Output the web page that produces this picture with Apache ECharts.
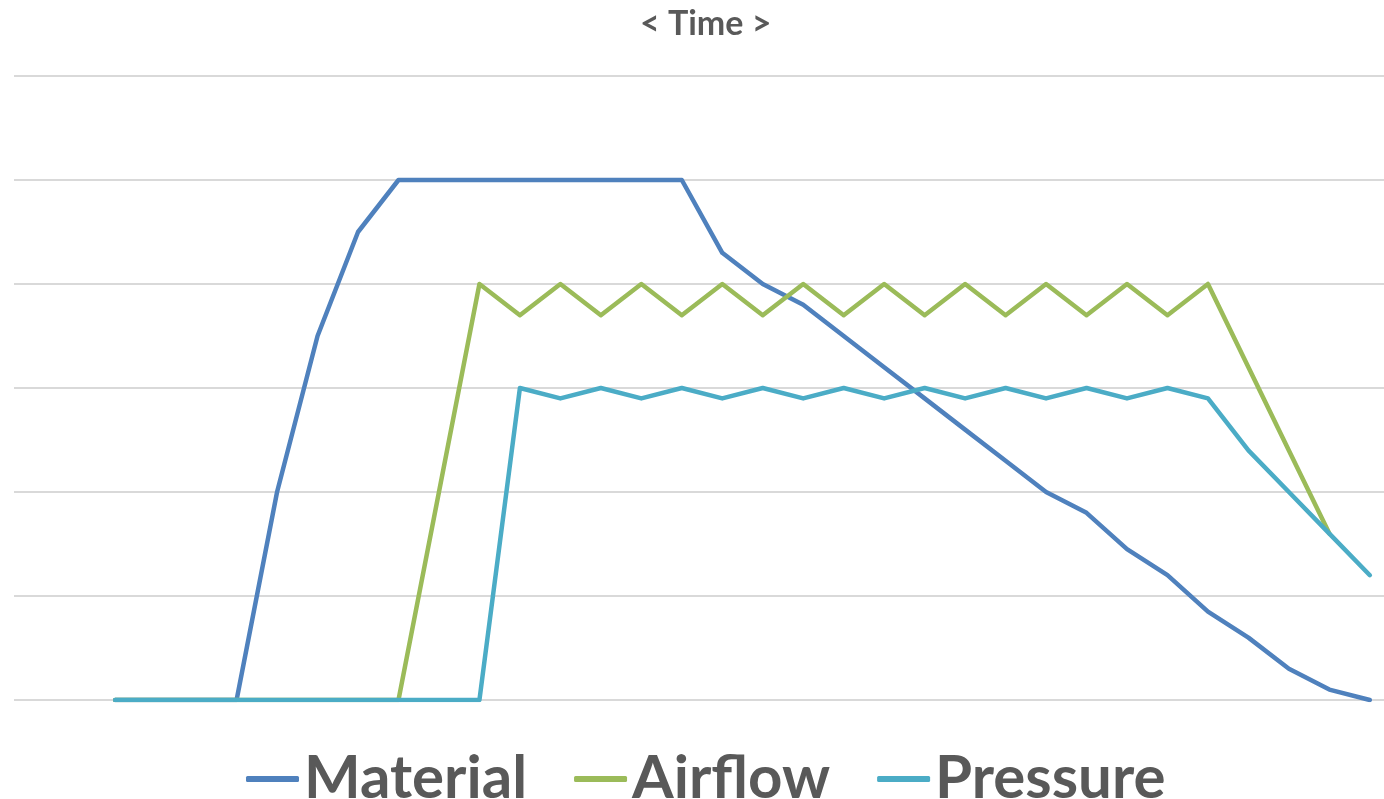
<!DOCTYPE html>
<html>
<head>
<meta charset="utf-8">
<script src="https://cdn.jsdelivr.net/npm/echarts@6/dist/echarts.min.js"></script>
<style>
html,body{margin:0;padding:0;background:#fff;}
#chart{width:1384px;height:799px;}
</style>
</head>
<body>
<div id="chart"></div>
<script>
// time steps (index positions along the time axis)
const timeSteps = [0,1,2,3,4,5,6,7,8,9,10,11,12,13,14,15,16,17,18,19,20,21,22,23,24,25,26,27,28,29,30,31];
const seriesNames = ['Material', 'Airflow', 'Pressure'];
const material = [0,0,0,0,2,3.5,4.5,5,5,5,5,5,5,5,5,4.3,4,3.8,3.5,3.2,2.9,2.6,2.3,2.0,1.8,1.45,1.2,0.85,0.6,0.3,0.1,0];
const airflow  = [0,0,0,0,0,0,0,0,2,4,3.7,4,3.7,4,3.7,4,3.7,4,3.7,4,3.7,4,3.7,4,3.7,4,3.7,4,3.2,2.4,1.6,null];
const pressure = [0,0,0,0,0,0,0,0,0,0,3,2.9,3,2.9,3,2.9,3,2.9,3,2.9,3,2.9,3,2.9,3,2.9,3,2.9,2.4,2.0,1.6,1.2];
const yTicks = [0,1,2,3,4,5,6];
const colors = ['#4f81bd', '#9bbb59', '#4bacc6'];

function pairs(vals){ return timeSteps.map((t,i)=>[t, vals[i]]); }

const chart = echarts.init(document.getElementById('chart'), null, {renderer:'canvas'});
const FONT = 'Lato, "Liberation Sans", sans-serif';
chart.setOption({
  animation: false,
  color: colors,
  title: {
    text: '< Time >',
    left: 635, top: 2,
    textStyle: {fontFamily: FONT, fontSize: 34, fontWeight: 'bold', color: '#595959'}
  },
  legend: {
    data: seriesNames,
    left: 241, top: 744,
    icon: 'roundRect',
    itemWidth: 53, itemHeight: 6,
    itemGap: 47,
    textStyle: {fontFamily: FONT, fontSize: 60, fontWeight: 'bold', color: '#595959', lineHeight: 60}
  },
  grid: {left: 14, right: 0, top: 76, bottom: 99, containLabel: false},
  xAxis: {
    type: 'value', min: -2.5, max: 31.35,
    axisLine: {show:false}, axisTick: {show:false}, axisLabel: {show:false}, splitLine: {show:false}
  },
  yAxis: {
    type: 'value', min: yTicks[0], max: yTicks[yTicks.length-1], interval: 1,
    axisLine: {show:false}, axisTick: {show:false}, axisLabel: {show:false},
    splitLine: {show:true, lineStyle: {color:'#d9d9d9', width:2}}
  },
  series: [
    {name: seriesNames[0], type:'line', data: pairs(material), symbol:'none', lineStyle:{width:4.5, cap:'round', join:'round'}},
    {name: seriesNames[1], type:'line', data: pairs(airflow), symbol:'none', lineStyle:{width:4.5, cap:'round', join:'round'}},
    {name: seriesNames[2], type:'line', data: pairs(pressure), symbol:'none', lineStyle:{width:4.5, cap:'round', join:'round'}}
  ]
});
</script>
</body>
</html>
